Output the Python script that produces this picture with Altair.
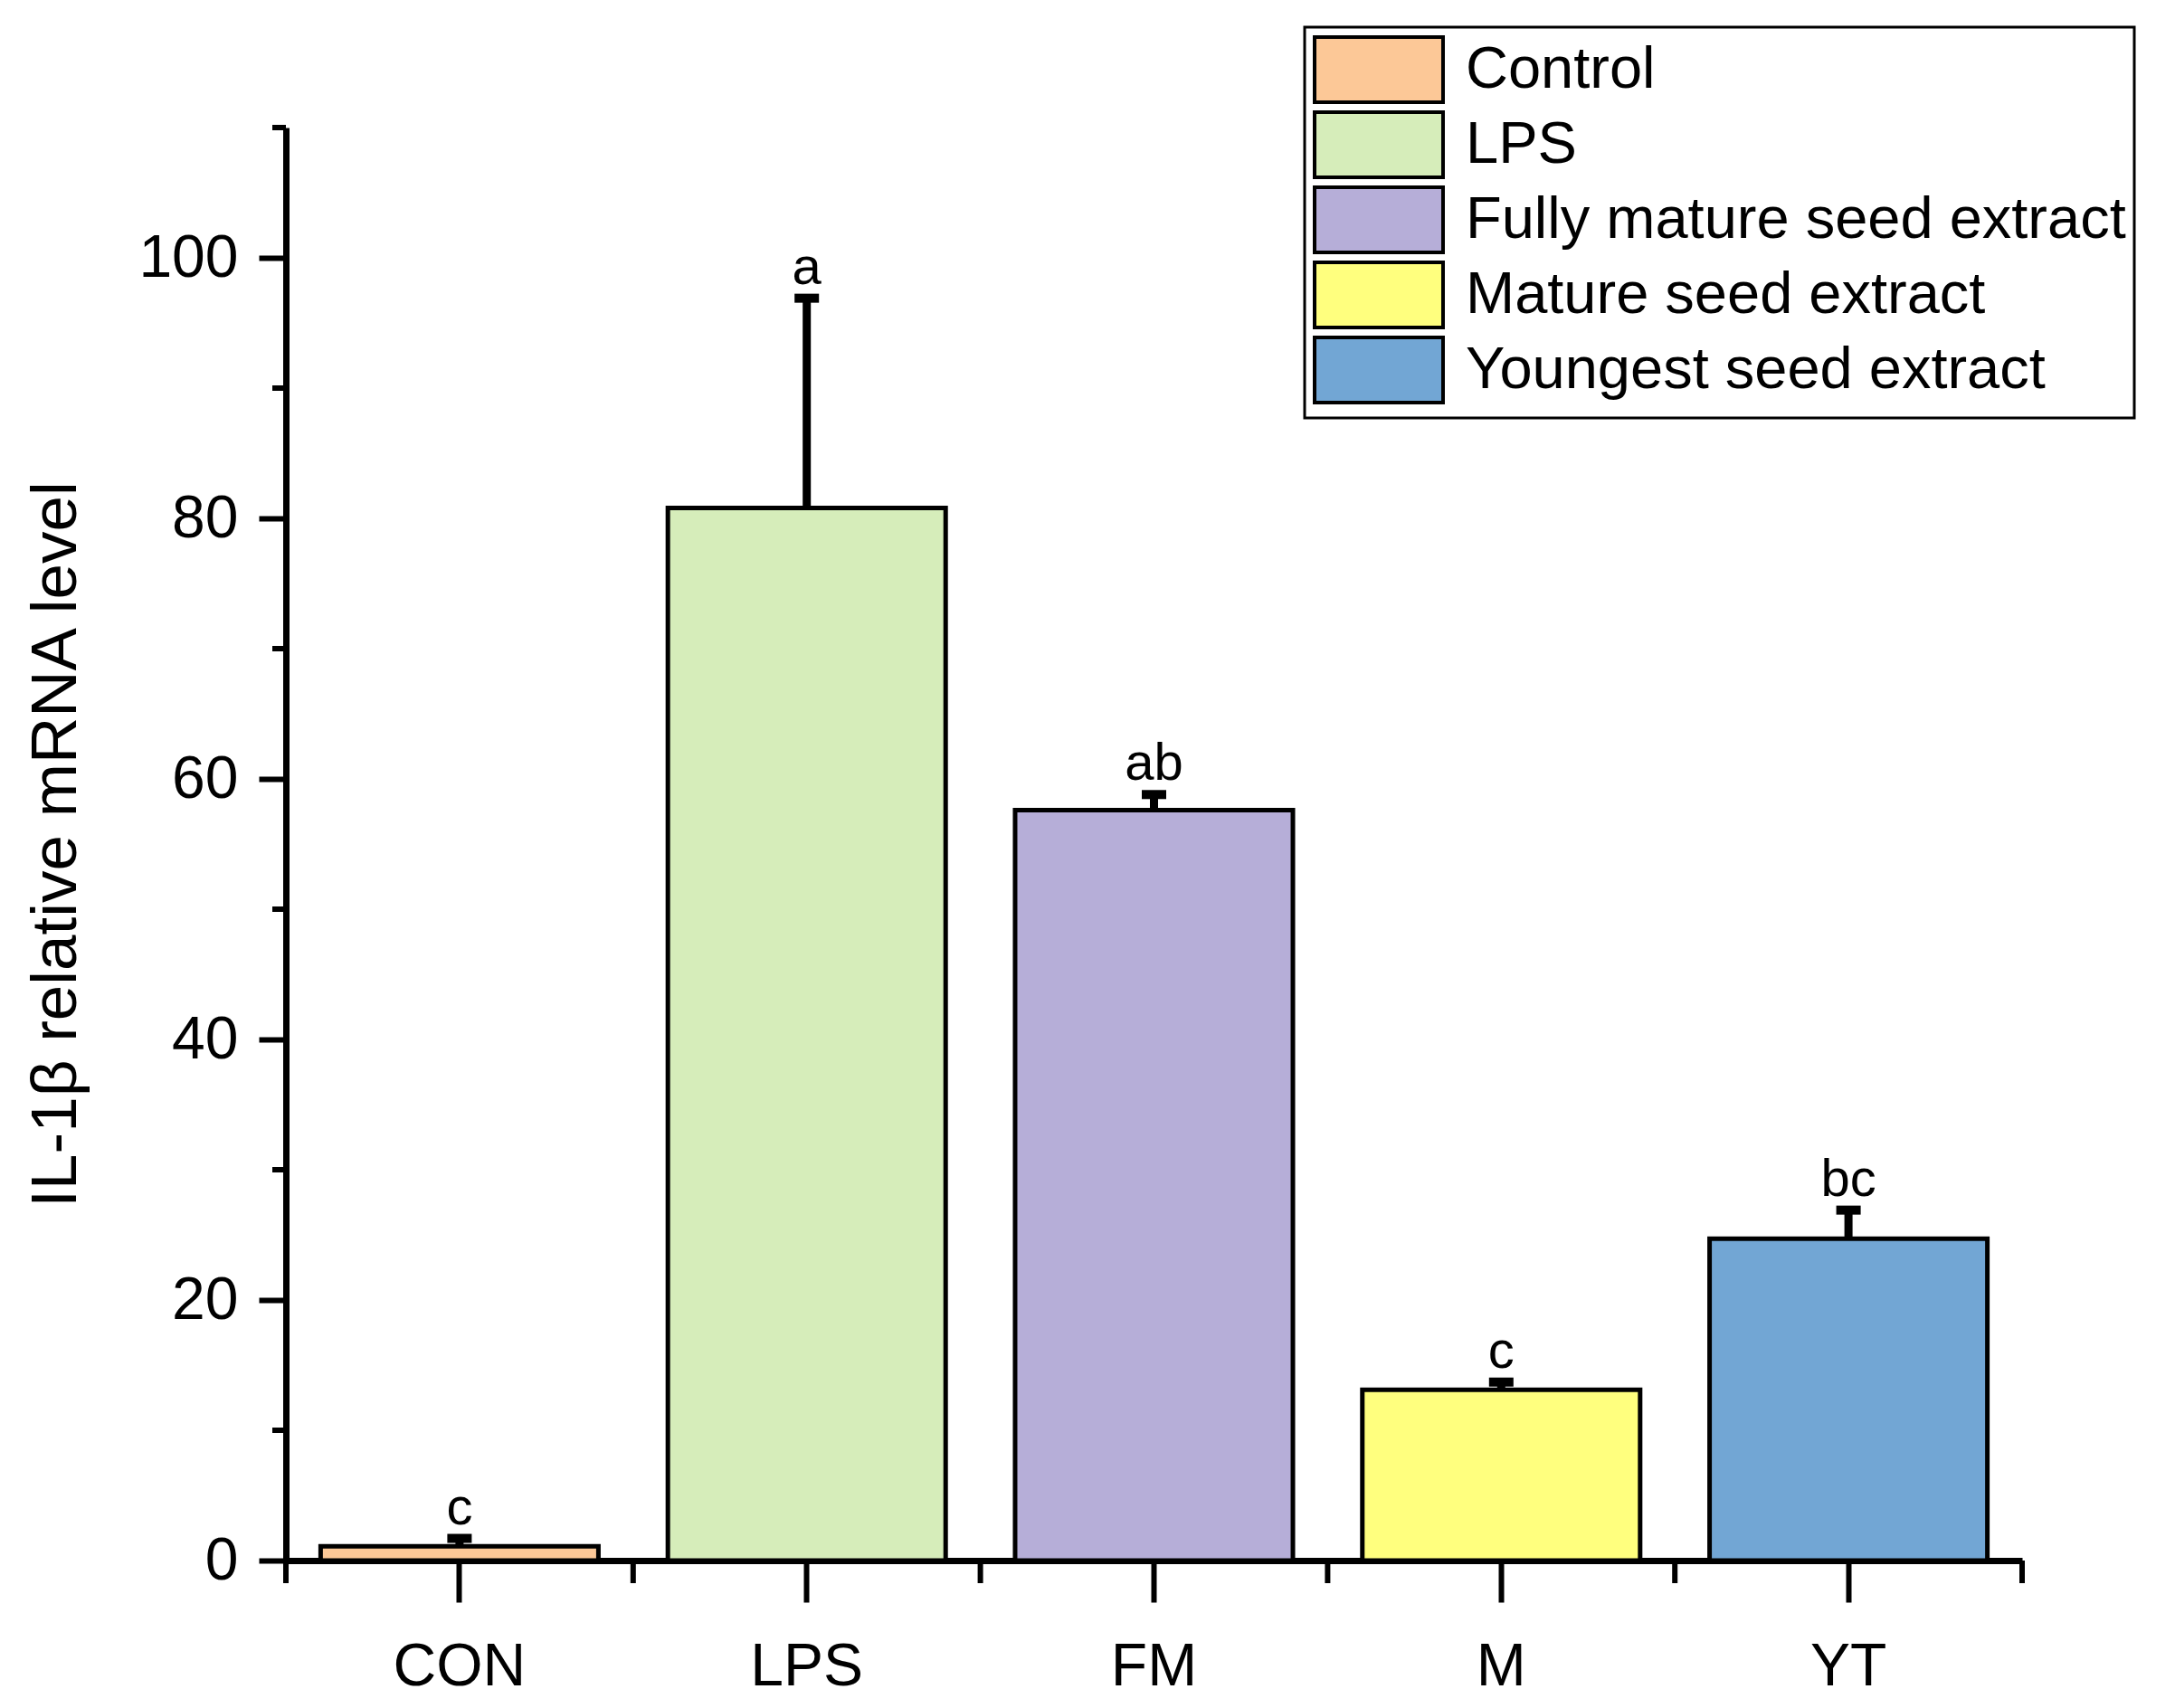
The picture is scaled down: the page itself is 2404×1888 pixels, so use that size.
import altair as alt
import pandas as pd

# ---- data ----
groups = ["CON", "LPS", "FM", "M", "YT"]
names = ["Control", "LPS", "Fully mature seed extract",
         "Mature seed extract", "Youngest seed extract"]
means = [1.1, 80.8, 57.6, 13.1, 24.7]
err_top = [1.7, 96.9, 58.8, 13.7, 26.9]
letters = ["c", "a", "ab", "c", "bc"]
colors = ["#FCC897", "#D6EDBA", "#B6AED8", "#FFFF7E", "#72A6D4"]
major_y = [0, 20, 40, 60, 80, 100]
minor_y = [10, 30, 50, 70, 90, 110]

FONT = "Liberation Sans"
W, H = 1919, 1584

df = pd.DataFrame(dict(group=groups, name=names, mean=means,
                       err=err_top, letter=letters))
df_end = df[df["group"] == groups[-1]]
df_minor = pd.DataFrame(dict(v=minor_y))

xscale = alt.Scale(domain=groups, paddingInner=0, paddingOuter=0)
yscale = alt.Scale(domain=[0, 110], nice=False, zero=True)

x_axis = alt.Axis(title=None, labelFontSize=66, labelFont=FONT,
                  labelColor="black", labelPadding=39, tickSize=46,
                  tickWidth=6, tickColor="black", domainWidth=7,
                  domainColor="black", labelAngle=0, grid=False,
                  bandPosition=0.5)
y_axis = alt.Axis(title="IL-1β relative mRNA level", values=major_y,
                  tickSize=30, tickWidth=6, tickColor="black",
                  domainWidth=7, domainColor="black", labelFontSize=66,
                  labelFont=FONT, labelPadding=23, labelColor="black",
                  titleFontSize=71, titleFont=FONT, titleFontWeight="normal",
                  titleColor="black", titleX=-254, titleY=H / 2,
                  titleAngle=270, titleAlign="center",
                  titleBaseline="middle", grid=False, format="d")

X = alt.X("group:N", scale=xscale, sort=groups, axis=x_axis)
base = alt.Chart(df).encode(x=X)

legend = alt.Legend(title=None, orient="none", legendX=1126, legendY=-111,
                    padding=9, strokeColor="black",
                    fillColor="white", symbolType="M-1,-1H2.944V1H-1Z",
                    symbolSize=5184, symbolStrokeColor="black",
                    symbolStrokeWidth=4, symbolOpacity=1, labelFontSize=65,
                    labelFont=FONT, labelColor="black", labelOffset=93,
                    labelLimit=2000)

bars = base.mark_bar(width={"band": 0.8}, stroke="black",
                     strokeWidth=5, opacity=1).encode(
    y=alt.Y("mean:Q", scale=yscale, axis=y_axis),
    color=alt.Color("name:N", sort=names,
                    scale=alt.Scale(domain=names, range=colors),
                    legend=legend),
)

err_rule = base.mark_rule(color="black", strokeWidth=9).encode(
    y=alt.Y("mean:Q", scale=yscale, axis=y_axis), y2="err:Q")

caps = base.mark_tick(color="black", size=27, thickness=10,
                      opacity=1).encode(y=alt.Y("err:Q", scale=yscale, axis=y_axis))

texts = base.mark_text(font=FONT, fontSize=58, baseline="alphabetic",
                       dy=-16, color="black").encode(
    y=alt.Y("err:Q", scale=yscale, axis=y_axis), text="letter:N")

minor_x = alt.Chart(df).mark_rule(color="black", strokeWidth=6).encode(
    x=alt.X("group:N", scale=xscale, sort=groups, bandPosition=0, axis=x_axis),
    y=alt.value(H), y2=alt.value(H + 25))
minor_x_end = alt.Chart(df_end).mark_rule(color="black", strokeWidth=6).encode(
    x=alt.X("group:N", scale=xscale, sort=groups, bandPosition=1, axis=x_axis),
    y=alt.value(H), y2=alt.value(H + 25))
minor_y_ticks = alt.Chart(df_minor).mark_rule(color="black", strokeWidth=6).encode(
    y=alt.Y("v:Q", scale=yscale, axis=y_axis),
    x=alt.value(-15), x2=alt.value(0))

chart = alt.layer(bars, err_rule, caps, texts, minor_x, minor_x_end,
                  minor_y_ticks).properties(
    width=W, height=H,
    autosize=alt.AutoSizeParams(type="none"),
    padding={"left": 308, "top": 133, "right": 161, "bottom": 155},
).configure_view(strokeWidth=0).configure_legend(
    strokeWidth=3, rowPadding=-5)

chart.save("out.html", embed_options={"renderer": "svg", "actions": False})
